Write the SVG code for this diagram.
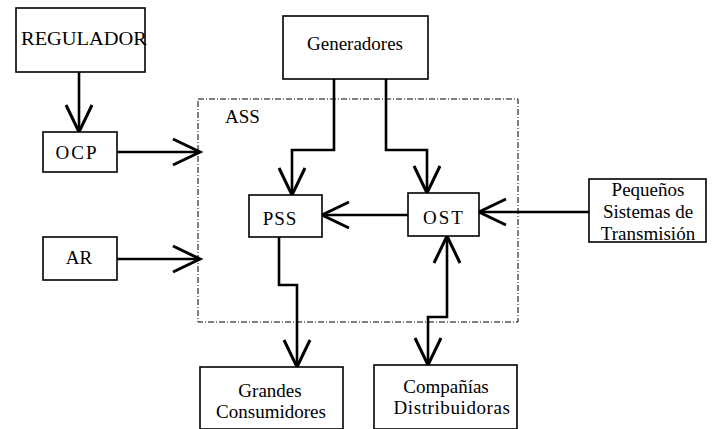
<svg xmlns="http://www.w3.org/2000/svg" width="712" height="429" viewBox="0 0 712 429">
<defs>
<marker id="v" markerUnits="userSpaceOnUse" viewBox="-30 -15 32 30" refX="0" refY="0" markerWidth="32" markerHeight="30" orient="auto-start-reverse" overflow="visible">
<path d="M-27,-13 L0,0 L-27,13" fill="none" stroke="#000" stroke-width="3"/>
</marker>
<style>
.box{fill:#fff;stroke:#000;stroke-width:1.6}
.ass{fill:none;stroke:#000;stroke-width:1;stroke-dasharray:6 2 1 2}
.t{font-family:"Liberation Serif","Times New Roman",serif;font-size:19px;fill:#000}
.c{text-anchor:middle}
.cn{fill:none;stroke:#000;stroke-width:2.6}
</style>
</defs>
<rect width="712" height="429" fill="#fff"/>
<g id="ASS">
<rect class="ass" x="198" y="99" width="320" height="223"/>
<text class="t" x="225" y="123">ASS</text>
</g>
<g id="connectors">
<path class="cn" d="M79,72 V132" marker-end="url(#v)"/>
<path class="cn" d="M117,152 H200" marker-end="url(#v)"/>
<path class="cn" d="M117,259 H200" marker-end="url(#v)"/>
<path class="cn" d="M334,79 V150 H292 V195" marker-end="url(#v)"/>
<path class="cn" d="M386,79 V150 H427 V193" marker-end="url(#v)"/>
<path class="cn" d="M408,215 H322" marker-end="url(#v)"/>
<path class="cn" d="M589,212 H479" marker-end="url(#v)"/>
<path class="cn" d="M447,236 V317 H428 V365" marker-start="url(#v)" marker-end="url(#v)"/>
<path class="cn" d="M279,237 V285 H297 V367" marker-end="url(#v)"/>
</g>
<g id="REGULADOR">
<rect class="box" x="16" y="8" width="129" height="64"/>
<text class="t" x="21" y="45" textLength="126" lengthAdjust="spacingAndGlyphs">REGULADOR</text>
</g>
<g id="Generadores">
<rect class="box" x="283" y="16" width="145" height="63"/>
<text class="t c" x="355" y="50">Generadores</text>
</g>
<g id="OCP">
<rect class="box" x="43" y="132" width="74" height="40"/>
<text class="t c" x="77" y="159" letter-spacing="2">OCP</text>
</g>
<g id="AR">
<rect class="box" x="43" y="237" width="74" height="43"/>
<text class="t c" x="79" y="264">AR</text>
</g>
<g id="PSS">
<rect class="box" x="249" y="195" width="73" height="42"/>
<text class="t c" x="280" y="225" letter-spacing="1">PSS</text>
</g>
<g id="OST">
<rect class="box" x="408" y="193" width="71" height="43"/>
<text class="t c" x="444" y="224" letter-spacing="2">OST</text>
</g>
<g id="Pequenos">
<rect class="box" x="589" y="179" width="117" height="63"/>
<text class="t c" x="648" y="196">Pequeños</text>
<text class="t c" x="648" y="218">Sistemas de</text>
<text class="t c" x="648" y="240">Transmisión</text>
</g>
<g id="Grandes">
<rect class="box" x="200" y="367" width="143" height="62"/>
<text class="t c" x="270" y="397">Grandes</text>
<text class="t c" x="271" y="418">Consumidores</text>
</g>
<g id="Companias">
<rect class="box" x="374" y="365" width="143" height="64"/>
<text class="t c" x="446" y="393">Compañías</text>
<text class="t c" x="452" y="414" letter-spacing="0.6">Distribuidoras</text>
</g>
</svg>
